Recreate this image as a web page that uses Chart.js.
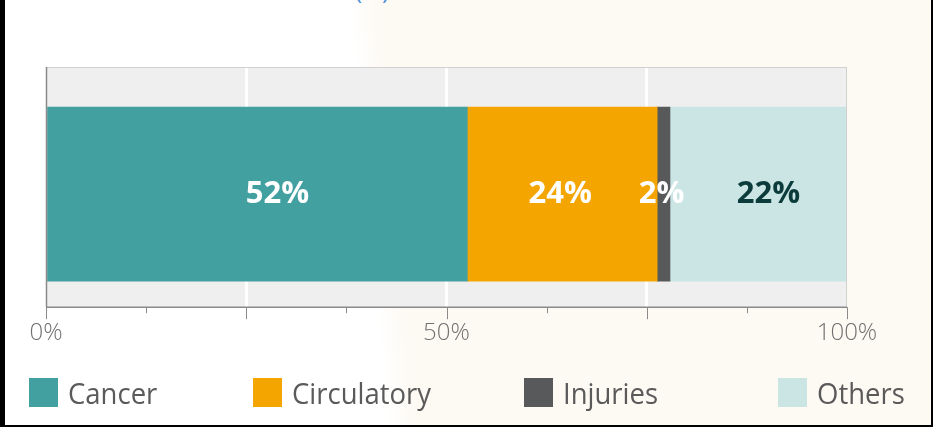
<!DOCTYPE html>
<html>
<head>
<meta charset="utf-8">
<script src="https://cdn.jsdelivr.net/npm/chart.js@4.4.1/dist/chart.umd.min.js"></script>
<style>
  html, body { margin: 0; padding: 0; }
  body { width: 933px; height: 427px; overflow: hidden; background: #000; }
  #frame {
    position: absolute; left: 5px; top: 0; width: 926px; height: 425px;
    background: linear-gradient(85deg, #ffffff 0px, #ffffff 380px, #fdf9f3 412px, #fdf9f3 100%);
    overflow: hidden;
  }
  #title {
    position: absolute; left: 350px; top: -27px; font-family: "Open Sans", sans-serif;
    font-size: 24px; color: #4a90d9; white-space: nowrap;
  }
  #wrap { position: absolute; left: -5px; top: 0; width: 933px; height: 427px; }
  #legend {
    position: absolute; left: -5px; top: 375px; width: 933px; height: 34px;
    font-family: "Open Sans", sans-serif; font-size: 27.5px; color: #5a5a5a;
  }
  .item { position: absolute; top: 0; display: flex; align-items: center; height: 34px; }
  .item:nth-child(1) { left: 29px; }
  .item:nth-child(2) { left: 253px; }
  .item:nth-child(3) { left: 524px; }
  .item:nth-child(4) { left: 778px; }
  .item span { display: inline-block; transform: scaleY(1.08); }
  .sw { width: 29px; height: 29px; margin-right: 10px; }
</style>
</head>
<body>
<div id="frame">
  <div id="title">(%)</div>
  <div id="wrap"><canvas id="c" width="933" height="427"></canvas></div>
  <div id="legend"></div>
</div>
<script>
const categories = ["Cancer", "Circulatory", "Injuries", "Others"];
const values = [52.6, 23.7, 1.6, 22.1];
const valueLabels = ["52%", "24%", "2%", "22%"];
const colors = ["#43a0a1", "#f5a500", "#58595b", "#cbe5e5"];
const labelColors = ["#ffffff", "#ffffff", "#ffffff", "#0b3b3a"];
const labelShift = [20, -2, -2, 10];
const tickLabels = {0: "0%", 50: "50%", 100: "100%"};

// legend
const lg = document.getElementById('legend');
categories.forEach((c, i) => {
  const it = document.createElement('div'); it.className = 'item';
  const sw = document.createElement('div'); sw.className = 'sw'; sw.style.background = colors[i];
  const tx = document.createElement('span'); tx.textContent = c;
  it.appendChild(sw); it.appendChild(tx); lg.appendChild(it);
});

const plotBg = {
  id: 'plotBg',
  beforeDraw(chart) {
    const {ctx, chartArea: a} = chart;
    ctx.save();
    ctx.fillStyle = '#efefef';
    ctx.fillRect(a.left, a.top, a.right - a.left, a.bottom - a.top);
    ctx.restore();
  },
  afterDraw(chart) {
    const {ctx, chartArea: a, scales: {x}} = chart;
    ctx.save();
    ctx.strokeStyle = '#d0d0d0'; ctx.lineWidth = 1;
    ctx.beginPath();
    ctx.moveTo(a.left, a.top + 0.5); ctx.lineTo(a.right, a.top + 0.5);
    ctx.moveTo(a.right - 0.5, a.top); ctx.lineTo(a.right - 0.5, a.bottom);
    ctx.stroke();
    ctx.strokeStyle = '#8a8a8a'; ctx.lineWidth = 1.5;
    ctx.beginPath();
    ctx.moveTo(a.left + 0.5, a.top); ctx.lineTo(a.left + 0.5, a.bottom);
    ctx.moveTo(a.left, a.bottom); ctx.lineTo(a.right, a.bottom);
    ctx.stroke();
    // tick marks
    ctx.lineWidth = 1; ctx.strokeStyle = '#8a8a8a';
    ctx.beginPath();
    x.ticks.forEach(t => {
      const px = Math.round(x.getPixelForValue(t.value)) + 0.5;
      const major = Math.abs(t.value % 25) < 1e-6;
      ctx.moveTo(px, a.bottom); ctx.lineTo(px, a.bottom + (major ? 12 : 6));
    });
    ctx.stroke();
    // value labels
    ctx.font = 'bold 31px "Open Sans", sans-serif';
    ctx.textAlign = 'center'; ctx.textBaseline = 'middle';
    chart.data.datasets.forEach((ds, i) => {
      const el = chart.getDatasetMeta(i).data[0];
      const cx = (el.x + el.base) / 2 + labelShift[i];
      ctx.fillStyle = labelColors[i];
      ctx.fillText(valueLabels[i], cx, el.y);
    });
    ctx.restore();
  }
};

new Chart(document.getElementById('c'), {
  type: 'bar',
  data: {
    datasets: categories.map((c, i) => ({
      label: c,
      data: [{x: values[i], y: 0}],
      backgroundColor: colors[i],
      borderWidth: 0,
      barThickness: 174
    }))
  },
  options: {
    indexAxis: 'y',
    responsive: false,
    animation: false,
    layout: { padding: { left: 46, right: 86, top: 67, bottom: 67 } },
    plugins: { legend: { display: false }, tooltip: { enabled: false } },
    scales: {
      y: { type: 'linear', stacked: true, display: false, min: -0.466, max: 0.534 },
      x: {
        stacked: true, min: 0, max: 100,
        border: { display: false },
        grid: {
          drawTicks: false,
          lineWidth: 3,
          color: c => (c.tick && [25, 50, 75].includes(c.tick.value)) ? '#ffffff' : 'rgba(0,0,0,0)'
        },
        ticks: {
          stepSize: 12.5,
          autoSkip: false,
          maxRotation: 0,
          padding: 12,
          color: '#707070',
          font: { family: 'Open Sans', size: 24, weight: '300' },
          callback: v => tickLabels[v] !== undefined ? tickLabels[v] : ''
        }
      }
    }
  },
  plugins: [plotBg]
});
</script>
</body>
</html>
